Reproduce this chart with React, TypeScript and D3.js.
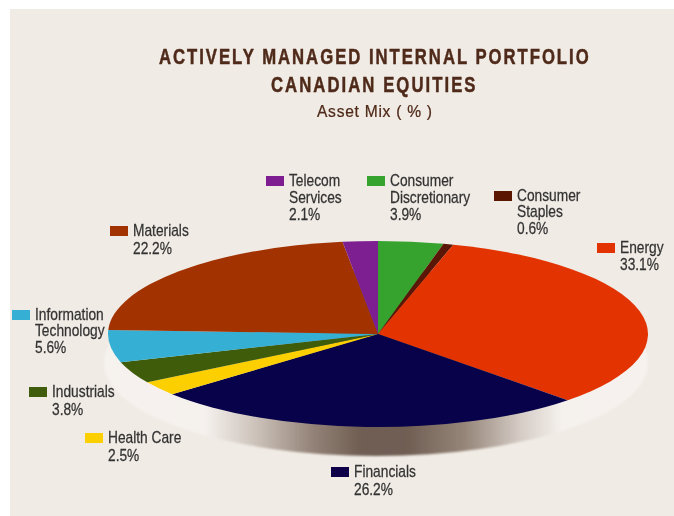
import React from 'react';
import * as d3 from 'd3';

const categories = ['Consumer Discretionary', 'Consumer Staples', 'Energy', 'Financials', 'Health Care', 'Industrials', 'Information Technology', 'Materials', 'Telecom Services'];
const values = [3.9, 0.6, 33.1, 26.2, 2.5, 3.8, 5.6, 22.2, 2.1];
const colors = ['#36a32e', '#5a1606', '#e23300', '#07024a', '#fccf00', '#3f5c0a', '#35afd4', '#a23300', '#7e1f91'];
const labelLines = [
  ['Consumer', 'Discretionary', '3.9%'],
  ['Consumer', 'Staples', '0.6%'],
  ['Energy', '33.1%'],
  ['Financials', '26.2%'],
  ['Health Care', '2.5%'],
  ['Industrials', '3.8%'],
  ['Information', 'Technology', '5.6%'],
  ['Materials', '22.2%'],
  ['Telecom', 'Services', '2.1%'],
];
// swatch left, swatch top and line spacing for each legend entry
const legendX = [367, 494, 597, 331, 85, 29, 12, 110, 266];
const legendY = [176, 191, 243, 467, 433, 387, 310, 226, 176];
const legendStep = [17, 16.5, 17, 18, 18, 18, 16.5, 18, 17];

const cx = 378;
const cy = 334;
const rx = 270;
const ry = 93;
const depth = 29;

const font = '"Liberation Sans", sans-serif';

export default function App() {
  const pie = d3.pie<number>().sort(null)(values);
  const arc = d3.arc<d3.PieArcDatum<number>>().innerRadius(0).outerRadius(rx);

  return (
    <svg
      width={674}
      height={516}
      style={{ position: 'absolute', left: 0, top: 0, background: '#ffffff' }}
    >
      <defs>
        <linearGradient id="rim" gradientUnits="userSpaceOnUse" x1={cx - rx} x2={cx + rx} y1={0} y2={0}>
          <stop offset="0" stopColor="#f6f2ee" />
          <stop offset="0.18" stopColor="#f5f1ed" />
          <stop offset="0.28" stopColor="#c9bfb7" />
          <stop offset="0.38" stopColor="#938277" />
          <stop offset="0.47" stopColor="#6f5d52" />
          <stop offset="0.55" stopColor="#6f5d52" />
          <stop offset="0.66" stopColor="#958579" />
          <stop offset="0.76" stopColor="#d3cac3" />
          <stop offset="0.84" stopColor="#f5f1ed" />
          <stop offset="1" stopColor="#f6f2ee" />
        </linearGradient>
        <filter id="soft" x="-5%" y="-5%" width="110%" height="110%">
          <feGaussianBlur stdDeviation="0.4" />
        </filter>
        <filter id="rimBlur" x="-5%" y="-10%" width="110%" height="120%">
          <feGaussianBlur stdDeviation="1.2" />
        </filter>
      </defs>
      <rect x={10} y={9} width={664} height={507} fill="#f0ebe5" />

      <g fontFamily={font} fontWeight="bold" fill="#4f2a1a" stroke="#4f2a1a" strokeWidth={0.5} filter="url(#soft)">
        <text transform="translate(159,63.5) scale(0.76,1)" fontSize={22} letterSpacing={2.6}>ACTIVELY MANAGED INTERNAL PORTFOLIO</text>
        <text transform="translate(271,92) scale(0.76,1)" fontSize={22} letterSpacing={2.7}>CANADIAN EQUITIES</text>
        <text transform="translate(317,116.5) scale(0.917,1)" fontSize={17} letterSpacing={0.8} fontWeight="normal" strokeWidth={0.25}>Asset Mix ( % )</text>
      </g>

      <ellipse cx={cx - 2} cy={cy + depth} rx={rx + 2} ry={ry} fill="url(#rim)" filter="url(#rimBlur)" />
      <g transform={`translate(${cx},${cy}) scale(1,${ry / rx})`}>
        {pie.map((d, i) => (
          <path key={categories[i]} d={arc(d) ?? ''} fill={colors[i]} />
        ))}
      </g>

      {categories.map((name, i) => (
        <g key={name} filter="url(#soft)">
          <rect x={legendX[i]} y={legendY[i]} width={18} height={10} fill={colors[i]} />
          <text
            transform={`translate(${legendX[i] + 23},${legendY[i] + 10}) scale(0.86,1)`}
            fontFamily={font}
            fontSize={16}
            fill="#333333"
            stroke="#333333"
            strokeWidth={0.25}
          >
            {labelLines[i].map((line, j) => (
              <tspan key={j} x={0} dy={j === 0 ? 0 : legendStep[i]}>{line}</tspan>
            ))}
          </text>
        </g>
      ))}
    </svg>
  );
}
